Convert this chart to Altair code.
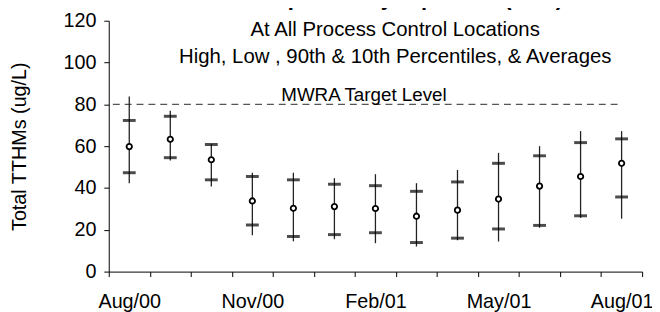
import json
import altair as alt
import pandas as pd

# ---- data ----
months = ["Aug/00", "Sep/00", "Oct/00", "Nov/00", "Dec/00", "Jan/01", "Feb/01",
          "Mar/01", "Apr/01", "May/01", "Jun/01", "Jul/01", "Aug/01"]
high = [83.7, 77.0, 61.0, 47.3, 47.3, 44.7, 46.6, 42.3, 48.6, 56.8, 60.0, 67.2, 67.2]
p90 = [72.3, 74.3, 60.8, 45.5, 43.9, 41.8, 41.1, 38.4, 42.9, 51.8, 55.4, 61.7, 63.5]
avg = [59.8, 63.3, 53.5, 33.8, 30.3, 31.1, 30.2, 26.5, 29.4, 34.7, 40.9, 45.5, 51.8]
p10 = [47.3, 54.5, 43.9, 22.3, 16.8, 17.7, 18.6, 13.9, 16.0, 20.4, 22.1, 26.7, 35.7]
low = [42.3, 53.2, 40.7, 17.4, 14.5, 15.5, 13.6, 12.0, 15.0, 14.4, 21.0, 25.7, 25.3]
shown_labels = ["Aug/00", "Nov/00", "Feb/01", "May/01", "Aug/01"]
y_ticks = [0, 20, 40, 60, 80, 100, 120]
target_value = [80]
target_label = ["MWRA Target Level"]

title_text = "Chicopee Valley Aqueduct (CVA)"
subtitle_lines = ["At All Process Control Locations",
                  "High, Low , 90th & 10th Percentiles, & Averages"]
y_title = "Total TTHMs (ug/L)"

FONT = "Liberation Sans"

df = pd.DataFrame({"month": months, "high": high, "p90": p90, "avg": avg,
                   "p10": p10, "low": low})
df_target = pd.DataFrame({"month": [months[0]], "month_end": [months[-1]],
                          "value": target_value})
df_label = pd.DataFrame({"month": [months[6]], "value": target_value,
                         "text": target_label})

label_expr = ("indexof(" + json.dumps(shown_labels) +
              ", datum.value) >= 0 ? datum.label : ''")

x_scale = alt.Scale(domain=months, paddingInner=0, paddingOuter=0)
x_axis = alt.Axis(title=None, tickBand="extent", labelExpr=label_expr,
                  labelAngle=0, labelAlign="center", labelBaseline="top",
                  tickSize=5, labelPadding=15, labelOverlap=False,
                  labelBound=False)
y_scale = alt.Scale(domain=[0, 120], nice=False)
y_axis = alt.Axis(values=y_ticks, title=y_title, tickSize=5, labelPadding=8,
                  titlePadding=34, format="d")


def X(field, **kw):
    return alt.X(field, type="ordinal", sort=months, scale=x_scale,
                 axis=x_axis, **kw)


def Y(field):
    return alt.Y(field, type="quantitative", scale=y_scale, axis=y_axis)


whiskers = alt.Chart(df).mark_rule(color="#222222", strokeWidth=1.3).encode(
    x=X("month"), y=Y("high"), y2="low")

ticks_hi = alt.Chart(df).mark_tick(color="black", thickness=3, size=13).encode(
    x=X("month"), y=Y("p90"))
ticks_lo = alt.Chart(df).mark_tick(color="black", thickness=3, size=13).encode(
    x=X("month"), y=Y("p10"))

points = alt.Chart(df).mark_point(shape="circle", filled=True, fill="white",
                                  stroke="black", strokeWidth=1.8, size=30,
                                  opacity=1).encode(
    x=X("month"), y=Y("avg"))

target = alt.Chart(df_target).mark_rule(color="#555555", strokeWidth=1.2,
                                        strokeDash=[7, 5]).encode(
    x=X("month", bandPosition=0.1),
    x2=alt.X2("month_end", bandPosition=0.5),
    y=Y("value"))

target_text = alt.Chart(df_label).mark_text(
    align="center", baseline="alphabetic", dy=-3, fontSize=19, font=FONT,
    color="black").encode(
    x=X("month", bandPosition=0.22), y=Y("value"), text="text:N")

chart = alt.layer(target, whiskers, ticks_hi, ticks_lo, points,
                  target_text).properties(
    width=540,
    height=254,
    autosize=alt.AutoSizeParams(type="none"),
    padding={"left": 102, "top": 11, "right": 10, "bottom": 39},
    title=alt.TitleParams(
        text=title_text, subtitle=subtitle_lines, anchor="middle",
        frame="group", dx=20, offset=-58, font=FONT, fontSize=22,
        fontWeight="bold", color="black", subtitleFont=FONT,
        subtitleFontSize=20.6, subtitleColor="black", subtitleLineHeight=27,
        subtitlePadding=10),
).configure_view(stroke=None).configure_axis(
    domainColor="black", tickColor="black", labelColor="black",
    titleColor="black", labelFont=FONT, titleFont=FONT, labelFontSize=20,
    titleFontSize=20, titleFontWeight="normal", grid=False, domainWidth=1,
    tickWidth=1)

chart.save("out.html", embed_options={"renderer": "svg", "actions": False})
